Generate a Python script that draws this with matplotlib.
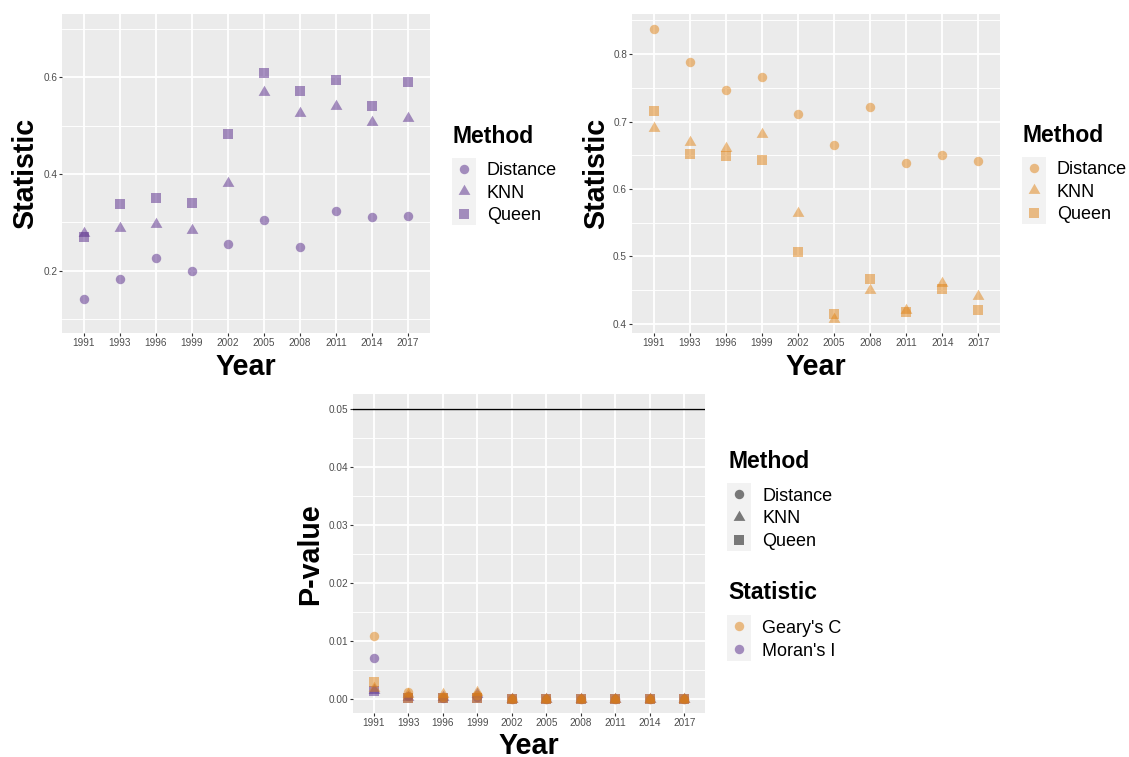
import matplotlib
matplotlib.use("Agg")
import matplotlib.pyplot as plt

plt.rcParams["font.family"] = ["Liberation Sans", "DejaVu Sans"]

YEARS = ["1991", "1993", "1996", "1999", "2002", "2005", "2008", "2011", "2014", "2017"]
METHODS = ["Distance", "KNN", "Queen"]
STATISTICS = ["Geary's C", "Moran's I"]

# Moran's I statistic per method
MORAN_DISTANCE = [0.142, 0.183, 0.226, 0.199, 0.255, 0.305, 0.250, 0.323, 0.312, 0.313]
MORAN_KNN = [0.278, 0.289, 0.297, 0.285, 0.382, 0.570, 0.525, 0.540, 0.508, 0.515]
MORAN_QUEEN = [0.269, 0.339, 0.351, 0.341, 0.482, 0.609, 0.572, 0.594, 0.541, 0.590]

# Geary's C statistic per method
GEARY_DISTANCE = [0.8375, 0.788, 0.747, 0.766, 0.711, 0.665, 0.722, 0.638, 0.651, 0.641]
GEARY_KNN = [0.691, 0.669, 0.661, 0.682, 0.564, 0.408, 0.451, 0.421, 0.460, 0.441]
GEARY_QUEEN = [0.716, 0.652, 0.649, 0.643, 0.506, 0.414, 0.467, 0.418, 0.452, 0.420]

# p-values
P_MORAN_DISTANCE = [0.0070, 0.0005, 0.0002, 0.0003, 0.0, 0.0, 0.0, 0.0, 0.0, 0.0]
P_MORAN_KNN = [0.0015, 0.0003, 0.0003, 0.0008, 0.0, 0.0, 0.0, 0.0, 0.0, 0.0]
P_MORAN_QUEEN = [0.0014, 0.0001, 0.0001, 0.0001, 0.0, 0.0, 0.0, 0.0, 0.0, 0.0]
P_GEARY_DISTANCE = [0.0109, 0.0012, 0.0003, 0.0006, 0.0, 0.0, 0.0, 0.0, 0.0, 0.0]
P_GEARY_KNN = [0.0018, 0.0008, 0.0008, 0.0012, 0.0, 0.0, 0.0, 0.0, 0.0, 0.0]
P_GEARY_QUEEN = [0.0029, 0.0002, 0.0002, 0.0002, 0.0, 0.0, 0.0, 0.0, 0.0, 0.0]
P_THRESHOLD = 0.05

ORANGE = "#E08214"
PURPLE = "#542788"
ALPHA = 0.5
TRIANGLE = [(0, 1), (-0.866, -0.5), (0.866, -0.5)]
MARKERS = {"Distance": ("o", 6.8), "KNN": (TRIANGLE, 9.8), "Queen": ("s", 7.0)}
STAT_COLORS = {"Geary's C": ORANGE, "Moran's I": PURPLE}

W, H = 1129, 757
fig = plt.figure(figsize=(W / 100, H / 100), dpi=100, facecolor="white")


def px_axes(x0, y0, x1, y1):
    return fig.add_axes([x0 / W, 1 - y1 / H, (x1 - x0) / W, (y1 - y0) / H])


def style_axes(axis, yticks, yticklabels, yminor, ylim, ylabel, ylabel_x, xlabel_y=-0.063):
    axis.set_facecolor("#EBEBEB")
    for spine in axis.spines.values():
        spine.set_visible(False)
    axis.set_xlim(-0.6, len(YEARS) - 0.4)
    axis.set_xticks(range(len(YEARS)))
    axis.set_xticklabels(YEARS)
    axis.set_yticks(yticks)
    axis.set_yticklabels(yticklabels)
    axis.set_yticks(yminor, minor=True)
    axis.set_ylim(ylim)
    axis.grid(which="major", color="white", linewidth=1.3)
    axis.grid(which="minor", axis="y", color="white", linewidth=0.65)
    axis.set_axisbelow(True)
    axis.tick_params(which="major", length=2.2, width=0.8, color="#333333",
                     labelsize=7.2, labelcolor="#4D4D4D", pad=1.5)
    axis.tick_params(which="minor", length=0)
    axis.set_xlabel("Year", fontsize=20.6, fontweight="bold", va="top")
    axis.xaxis.set_label_coords(0.5, xlabel_y)
    axis.set_ylabel(ylabel, fontsize=20.6, fontweight="bold")
    axis.yaxis.set_label_coords(ylabel_x, 0.5)


def draw_points(axis, series, color):
    x = range(len(YEARS))
    for method in METHODS:
        marker, size = MARKERS[method]
        axis.plot(x, series[method], linestyle="", marker=marker, markersize=size,
                  color=color, alpha=ALPHA, markeredgewidth=0, clip_on=False)


def draw_key(rect, title, labels, markers, colors, title_gap):
    kax = px_axes(*rect)
    kax.set_facecolor("#F2F2F2")
    for spine in kax.spines.values():
        spine.set_visible(False)
    kax.set_xticks([])
    kax.set_yticks([])
    n = len(labels)
    kax.set_xlim(0, 1)
    kax.set_ylim(n - 0.5, -0.5)
    cell = (rect[3] - rect[1]) / n
    trans = kax.get_yaxis_transform()
    for i, (label, (marker, size), color) in enumerate(zip(labels, markers, colors)):
        kax.plot([0.5], [i], linestyle="", marker=marker, markersize=size,
                 color=color, alpha=ALPHA, markeredgewidth=0)
        kax.text(1.46, i + 6.5 / cell, label, transform=trans, va="baseline",
                 ha="left", fontsize=13, color="black")
    kax.text(0.04, -0.5 - title_gap / cell, title, transform=trans, va="baseline",
             ha="left", fontsize=16.5, fontweight="bold", color="black")


# Panel 1: Moran's I
ax1 = px_axes(62.4, 14, 429.6, 333)
style_axes(ax1, [0.2, 0.4, 0.6], ["0.2", "0.4", "0.6"], [0.1, 0.3, 0.5, 0.7],
           (0.072, 0.730), "Statistic", -0.0625)
draw_points(ax1, {"Distance": MORAN_DISTANCE, "KNN": MORAN_KNN, "Queen": MORAN_QUEEN}, PURPLE)
draw_key((451.7, 157.7, 475.7, 225), "Method", METHODS,
         [MARKERS[m] for m in METHODS], [PURPLE] * 3, 14.4)

# Panel 2: Geary's C
ax2 = px_axes(632.2, 14, 1000, 333)
style_axes(ax2, [0.4, 0.5, 0.6, 0.7, 0.8], ["0.4", "0.5", "0.6", "0.7", "0.8"],
           [0.45, 0.55, 0.65, 0.75, 0.85], (0.3865, 0.8595), "Statistic", -0.059)
draw_points(ax2, {"Distance": GEARY_DISTANCE, "KNN": GEARY_KNN, "Queen": GEARY_QUEEN}, ORANGE)
draw_key((1021.7, 156.7, 1045.7, 223.7), "Method", METHODS,
         [MARKERS[m] for m in METHODS], [ORANGE] * 3, 14.4)

# Panel 3: p-values
ax3 = px_axes(353.3, 394, 705, 713.3)
style_axes(ax3, [0.0, 0.01, 0.02, 0.03, 0.04, 0.05],
           ["0.00", "0.01", "0.02", "0.03", "0.04", "0.05"],
           [0.005, 0.015, 0.025, 0.035, 0.045], (-0.0025, 0.0525), "P-value", -0.082,
           xlabel_y=-0.057)
ax3.axhline(P_THRESHOLD, color="black", linewidth=1.0)
draw_points(ax3, {"Distance": P_MORAN_DISTANCE, "KNN": P_MORAN_KNN, "Queen": P_MORAN_QUEEN}, PURPLE)
draw_points(ax3, {"Distance": P_GEARY_DISTANCE, "KNN": P_GEARY_KNN, "Queen": P_GEARY_QUEEN}, ORANGE)
draw_key((727.3, 482.7, 751.3, 551), "Method", METHODS,
         [MARKERS[m] for m in METHODS], ["black"] * 3, 15)
draw_key((727.3, 615, 751.3, 660.7), "Statistic", STATISTICS,
         [MARKERS["Distance"]] * 2, [STAT_COLORS[s] for s in STATISTICS], 15.7)

fig.savefig("out.png", dpi=100, facecolor="white")
